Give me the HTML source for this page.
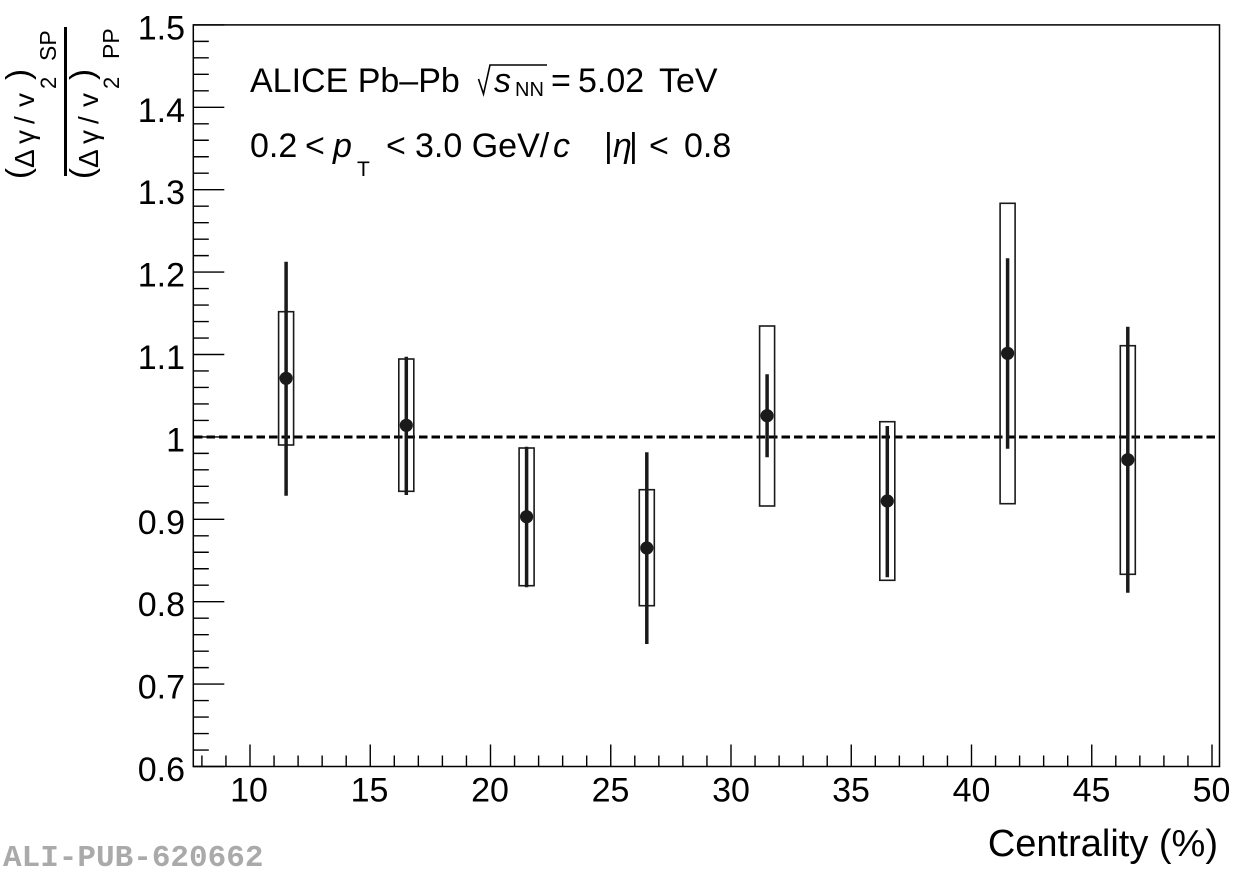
<!DOCTYPE html>
<html>
<head>
<meta charset="utf-8">
<style>
html,body{margin:0;padding:0;background:#fff;}
svg{display:block;}
text{font-family:"Liberation Sans",Arial,sans-serif;fill:#000;}
</style>
</head>
<body>
<svg width="1240" height="875" viewBox="0 0 1240 875" xmlns="http://www.w3.org/2000/svg">
<rect x="0" y="0" width="1240" height="875" fill="#fff"/>

<!-- frame -->
<rect x="193.3" y="24.9" width="1026.2" height="741.6" fill="none" stroke="#000" stroke-width="1.5"/>

<!-- x ticks -->
<path stroke="#000" stroke-width="1.4" fill="none" d="
M201.9 766.5V755.5 M225.95 766.5V755.5 M250 766.5V744.5 M274.05 766.5V755.5 M298.1 766.5V755.5 M322.15 766.5V755.5 M346.2 766.5V755.5
M370.25 766.5V744.5 M394.3 766.5V755.5 M418.35 766.5V755.5 M442.4 766.5V755.5 M466.45 766.5V755.5
M490.5 766.5V744.5 M514.55 766.5V755.5 M538.6 766.5V755.5 M562.65 766.5V755.5 M586.7 766.5V755.5
M610.75 766.5V744.5 M634.8 766.5V755.5 M658.85 766.5V755.5 M682.9 766.5V755.5 M706.95 766.5V755.5
M731 766.5V744.5 M755.05 766.5V755.5 M779.1 766.5V755.5 M803.15 766.5V755.5 M827.2 766.5V755.5
M851.25 766.5V744.5 M875.3 766.5V755.5 M899.35 766.5V755.5 M923.4 766.5V755.5 M947.45 766.5V755.5
M971.5 766.5V744.5 M995.55 766.5V755.5 M1019.6 766.5V755.5 M1043.65 766.5V755.5 M1067.7 766.5V755.5
M1091.75 766.5V744.5 M1115.8 766.5V755.5 M1139.85 766.5V755.5 M1163.9 766.5V755.5 M1187.95 766.5V755.5
M1212 766.5V744.5"/>

<!-- y ticks -->
<path stroke="#000" stroke-width="1.4" fill="none" d="
M193.3 766.5H224.3 M193.3 750.02H208.8 M193.3 733.54H208.8 M193.3 717.06H208.8 M193.3 700.58H208.8
M193.3 684.1H224.3 M193.3 667.62H208.8 M193.3 651.14H208.8 M193.3 634.66H208.8 M193.3 618.18H208.8
M193.3 601.7H224.3 M193.3 585.22H208.8 M193.3 568.74H208.8 M193.3 552.26H208.8 M193.3 535.78H208.8
M193.3 519.3H224.3 M193.3 502.82H208.8 M193.3 486.34H208.8 M193.3 469.86H208.8 M193.3 453.38H208.8
M193.3 436.9H224.3 M193.3 420.42H208.8 M193.3 403.94H208.8 M193.3 387.46H208.8 M193.3 370.98H208.8
M193.3 354.5H224.3 M193.3 338.02H208.8 M193.3 321.54H208.8 M193.3 305.06H208.8 M193.3 288.58H208.8
M193.3 272.1H224.3 M193.3 255.62H208.8 M193.3 239.14H208.8 M193.3 222.66H208.8 M193.3 206.18H208.8
M193.3 189.7H224.3 M193.3 173.22H208.8 M193.3 156.74H208.8 M193.3 140.26H208.8 M193.3 123.78H208.8
M193.3 107.3H224.3 M193.3 90.82H208.8 M193.3 74.34H208.8 M193.3 57.86H208.8 M193.3 41.38H208.8
M193.3 24.9H224.3"/>

<!-- y tick labels -->
<g font-size="34" text-anchor="end">
<text x="185" y="781">0.6</text>
<text x="185" y="698.6">0.7</text>
<text x="185" y="616.2">0.8</text>
<text x="185" y="533.8">0.9</text>
<text x="185" y="451.4">1</text>
<text x="185" y="369">1.1</text>
<text x="185" y="286.6">1.2</text>
<text x="185" y="204.2">1.3</text>
<text x="185" y="121.8">1.4</text>
<text x="185" y="39.4">1.5</text>
</g>

<!-- x tick labels -->
<g font-size="34" text-anchor="middle">
<text x="249" y="801.5">10</text>
<text x="369.5" y="801.5">15</text>
<text x="490" y="801.5">20</text>
<text x="610.5" y="801.5">25</text>
<text x="731" y="801.5">30</text>
<text x="851" y="801.5">35</text>
<text x="971.5" y="801.5">40</text>
<text x="1091.5" y="801.5">45</text>
<text x="1211.5" y="801.5">50</text>
</g>

<!-- x axis title -->
<text x="1218" y="856" font-size="38" text-anchor="end">Centrality (%)</text>

<!-- y axis title (rotated fraction) -->
<rect x="64" y="27" width="3" height="149" fill="#000"/>
<g transform="rotate(-90)">
  <text font-size="28">
    <tspan x="-179" y="29" font-size="33">(</tspan>
    <tspan x="-168" y="34">Δ</tspan>
    <tspan x="-144" y="34">γ</tspan>
    <tspan x="-124" y="34">/</tspan>
    <tspan x="-107" y="34">v</tspan>
    <tspan x="-89" y="56" font-size="22">2</tspan>
    <tspan x="-80" y="29" font-size="33">)</tspan>
    <tspan x="-61" y="56" font-size="23">SP</tspan>
  </text>
  <text font-size="28">
    <tspan x="-179" y="93" font-size="33">(</tspan>
    <tspan x="-168" y="98">Δ</tspan>
    <tspan x="-144" y="98">γ</tspan>
    <tspan x="-124" y="98">/</tspan>
    <tspan x="-107" y="98">v</tspan>
    <tspan x="-89" y="119" font-size="22">2</tspan>
    <tspan x="-80" y="93" font-size="33">)</tspan>
    <tspan x="-59" y="119" font-size="23">PP</tspan>
  </text>
</g>

<!-- header text line 1 -->
<text x="250" y="92" font-size="34">ALICE Pb–Pb</text>
<polyline points="478.5,79 483.5,94 490,65 547,65" fill="none" stroke="#000" stroke-width="1.6"/>
<text x="494" y="92" font-size="34" font-style="italic">s</text>
<text x="515" y="96" font-size="20">NN</text>
<text x="551" y="92" font-size="34">=</text>
<text x="578" y="92" font-size="34">5.02</text>
<text x="659" y="92" font-size="34">TeV</text>

<!-- header text line 2 -->
<text x="250" y="157" font-size="34">0.2</text>
<text x="305" y="157" font-size="34">&lt;</text>
<text x="333" y="157" font-size="34" font-style="italic">p</text>
<text x="357" y="176" font-size="21">T</text>
<text x="386" y="157" font-size="34">&lt;</text>
<text x="415" y="157" font-size="34">3.0 GeV/</text>
<text x="553" y="157" font-size="34" font-style="italic">c</text>
<text x="604" y="157" font-size="34">|</text>
<text x="613" y="157" font-size="34" font-style="italic">η</text>
<text x="629" y="157" font-size="34">|</text>
<text x="649" y="157" font-size="34">&lt;</text>
<text x="684" y="157" font-size="34">0.8</text>

<!-- ALI-PUB label -->
<text x="3" y="866" font-weight="bold" font-size="31" style="fill:#aaaaaa;font-family:'Liberation Mono',monospace">ALI-PUB-620662</text>

<!-- dashed line at 1 -->
<line x1="194" y1="437" x2="1219" y2="437" stroke="#000" stroke-width="3" stroke-dasharray="8.5,4"/>

<!-- systematic boxes -->
<g fill="none" stroke="#1a1a1a" stroke-width="1.6">
<rect x="278.6" y="311.7" width="15" height="133.3"/>
<rect x="398.8" y="359" width="15" height="132.3"/>
<rect x="519.1" y="448" width="15" height="137.7"/>
<rect x="639.3" y="489.7" width="15" height="116"/>
<rect x="759.6" y="326" width="15" height="180"/>
<rect x="879.8" y="421.7" width="15" height="158.6"/>
<rect x="1000.1" y="203.3" width="15" height="300.4"/>
<rect x="1120.3" y="345.7" width="15" height="228.6"/>
</g>

<!-- statistical error bars -->
<g stroke="#1a1a1a" stroke-width="3.5">
<line x1="286.1" y1="261.7" x2="286.1" y2="495.7"/>
<line x1="406.3" y1="356.7" x2="406.3" y2="495"/>
<line x1="526.6" y1="446.7" x2="526.6" y2="587.3"/>
<line x1="646.8" y1="452.3" x2="646.8" y2="644"/>
<line x1="767.1" y1="374.3" x2="767.1" y2="457.3"/>
<line x1="887.3" y1="426" x2="887.3" y2="577.3"/>
<line x1="1007.6" y1="258.3" x2="1007.6" y2="448.7"/>
<line x1="1127.8" y1="326.7" x2="1127.8" y2="592.7"/>
</g>

<!-- markers -->
<g fill="#1a1a1a">
<circle cx="286.1" cy="378.3" r="6.6"/>
<circle cx="406.3" cy="425.3" r="6.6"/>
<circle cx="526.6" cy="516.7" r="6.6"/>
<circle cx="646.8" cy="548" r="6.6"/>
<circle cx="767.1" cy="415.7" r="6.6"/>
<circle cx="887.3" cy="501" r="6.6"/>
<circle cx="1007.6" cy="353.3" r="6.6"/>
<circle cx="1127.8" cy="459.7" r="6.6"/>
</g>
</svg>
</body>
</html>
